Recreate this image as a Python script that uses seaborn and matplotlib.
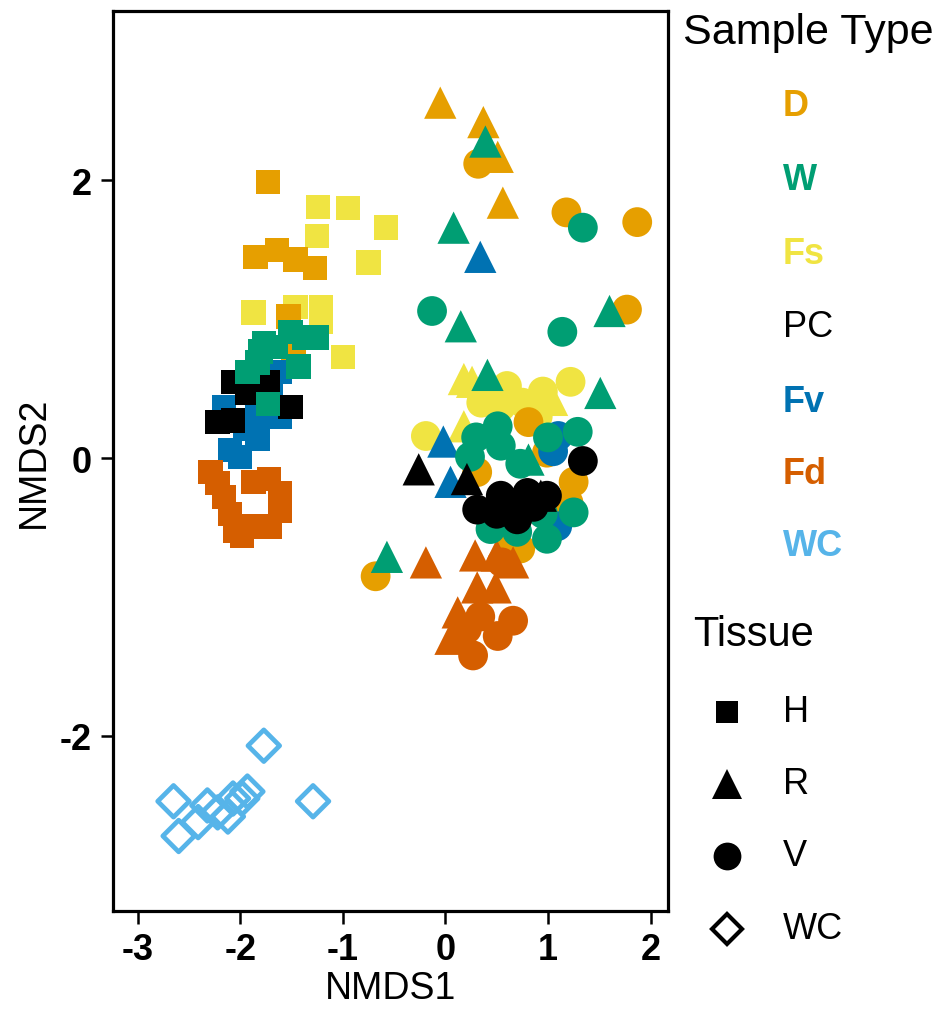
import matplotlib
matplotlib.use("Agg")
import matplotlib.pyplot as plt
import seaborn as sns
import pandas as pd
from matplotlib.lines import Line2D

# ---- data (NMDS1, NMDS2) per sample type and tissue ----
d_h = [(-1.73, 1.99), (-1.85, 1.45), (-1.64, 1.50), (-1.46, 1.43), (-1.27, 1.37),
       (-1.53, 1.02), (-1.48, 0.78)]
fs_h = [(-1.24, 1.81), (-0.95, 1.80), (-0.58, 1.66), (-1.25, 1.60), (-0.75, 1.41),
        (-1.87, 1.05), (-1.46, 1.09), (-1.21, 1.09), (-1.21, 0.98), (-1.00, 0.73)]
fv_h = [(-2.16, 0.37), (-1.83, 0.30), (-1.61, 0.62), (-1.61, 0.30), (-2.00, 0.01),
        (-1.83, 0.14), (-2.10, 0.06), (-1.95, 0.21), (-1.70, 0.45)]
pc_h = [(-2.07, 0.55), (-1.93, 0.47), (-1.73, 0.55), (-1.51, 0.37), (-2.22, 0.26),
        (-2.07, 0.27)]
w_h = [(-1.77, 0.83), (-1.38, 0.87), (-1.25, 0.87), (-1.83, 0.69), (-1.93, 0.62),
       (-1.43, 0.66), (-1.73, 0.39), (-1.51, 0.91), (-1.80, 0.77), (-1.65, 0.80)]
fd_h = [(-2.29, -0.10), (-2.22, -0.18), (-2.16, -0.28), (-2.10, -0.40), (-2.05, -0.52),
        (-1.98, -0.56), (-1.87, -0.49), (-1.71, -0.49), (-1.61, -0.38), (-1.61, -0.25),
        (-1.72, -0.15), (-1.87, -0.17)]

fs_v = [(0.60, 0.52), (1.22, 0.55), (0.54, 0.37), (-0.19, 0.16), (0.75, 0.40),
        (0.90, 0.30), (0.45, 0.45), (0.95, 0.48), (0.35, 0.40)]
fs_r = [(0.18, 0.57), (0.26, 0.55), (1.04, 0.42), (0.18, 0.23), (0.70, 0.45),
        (0.85, 0.35)]
d_r = [(-0.05, 2.56), (0.37, 2.42), (0.51, 2.17), (0.56, 1.84)]
d_v = [(0.32, 2.12), (1.18, 1.77), (1.87, 1.70), (1.77, 1.07), (0.81, 0.26),
       (0.99, 0.04), (0.31, -0.10), (1.25, -0.17), (0.73, -0.65), (-0.68, -0.85),
       (1.20, -0.32), (0.60, -0.55)]
fv_r = [(0.34, 1.45), (-0.02, 0.12), (0.05, -0.17)]
fv_v = [(1.10, 0.16), (1.09, -0.49), (1.05, 0.05)]
fd_r = [(-0.19, -0.75), (0.29, -0.70), (0.66, -0.75), (0.31, -0.93), (0.49, -0.93),
        (0.12, -1.11), (0.10, -1.25), (0.05, -1.30), (0.50, -0.70)]
fd_v = [(0.34, -1.14), (0.66, -1.17), (0.51, -1.28), (0.27, -1.42), (0.21, -1.23),
        (0.55, -0.75)]
pc_r = [(-0.26, -0.08), (0.21, -0.15), (0.93, -0.27)]
pc_v = [(1.34, -0.02), (0.31, -0.37), (0.54, -0.27), (0.70, -0.32), (0.86, -0.35),
        (0.99, -0.27), (0.70, -0.44), (0.50, -0.40), (0.80, -0.25)]
w_r = [(0.39, 2.28), (0.08, 1.66), (0.15, 0.95), (1.60, 1.06), (0.41, 0.60),
       (1.51, 0.47), (-0.57, -0.71), (0.81, -0.01)]
w_v = [(1.34, 1.66), (-0.13, 1.06), (1.14, 0.91), (0.51, 0.23), (1.29, 0.19),
       (0.24, 0.01), (0.54, 0.09), (0.73, -0.04), (1.25, -0.39), (0.44, -0.51),
       (0.70, -0.53), (0.99, -0.58), (0.30, 0.15), (0.95, -0.40), (1.00, 0.15)]

wc_wc = [(-1.77, -2.07), (-1.29, -2.47), (-2.65, -2.47), (-2.60, -2.72), (-2.41, -2.62),
         (-2.22, -2.55), (-2.07, -2.45), (-1.93, -2.40), (-2.32, -2.50), (-2.12, -2.58),
         (-1.98, -2.45)]

sample_types = ["D", "W", "Fs", "PC", "Fv", "Fd", "WC"]
sample_colors = ["#E69F00", "#009E73", "#F0E442", "#000000", "#0072B2", "#D55E00", "#56B4E9"]
tissues = ["H", "R", "V", "WC"]

# drawing order (later = on top)
groups = [
    ("Fs", "H", fs_h), ("D", "H", d_h), ("Fv", "H", fv_h), ("Fd", "H", fd_h),
    ("PC", "H", pc_h), ("W", "H", w_h),
    ("Fs", "V", fs_v), ("Fs", "R", fs_r), ("D", "R", d_r), ("D", "V", d_v),
    ("Fv", "R", fv_r), ("Fv", "V", fv_v), ("Fd", "R", fd_r), ("Fd", "V", fd_v),
    ("W", "V", w_v), ("W", "R", w_r), ("PC", "R", pc_r), ("PC", "V", pc_v),
]

rows = []
for st, ti, pts in groups:
    for x, y in pts:
        rows.append({"NMDS1": x, "NMDS2": y, "Sample": st, "Tissue": ti})
df = pd.DataFrame(rows)
wc_df = pd.DataFrame(wc_wc, columns=["NMDS1", "NMDS2"])

palette = dict(zip(sample_types, sample_colors))

sns.set_style("ticks")
plt.rcParams["font.family"] = ["Liberation Sans", "DejaVu Sans"]
plt.rcParams["axes.unicode_minus"] = False
plt.rcParams["text.color"] = "black"
plt.rcParams["axes.labelcolor"] = "black"
plt.rcParams["xtick.color"] = "black"
plt.rcParams["ytick.color"] = "black"

fig = plt.figure(figsize=(9.5, 10.2), dpi=100)
ax = fig.add_axes([113 / 950, 1 - 912 / 1020, (668 - 113) / 950, (912 - 12) / 1020])

sns.scatterplot(data=df, x="NMDS1", y="NMDS2", hue="Sample", style="Tissue",
                size="Tissue", palette=palette,
                markers={"H": "s", "R": "^", "V": "o"},
                sizes={"H": 310, "R": 540, "V": 460},
                linewidth=0, legend=False, ax=ax)
sns.scatterplot(data=wc_df, x="NMDS1", y="NMDS2", marker="D", s=260,
                facecolor="none", edgecolor=palette["WC"], linewidth=3.4,
                legend=False, ax=ax)

ax.set_xlim(-3.24, 2.17)
ax.set_ylim(-3.26, 3.22)
ax.set_xticks([-3, -2, -1, 0, 1, 2])
ax.set_yticks([-2, 0, 2])
for sp in ax.spines.values():
    sp.set_linewidth(2.3)
    sp.set_color("black")
ax.tick_params(direction="out", length=9, width=1.8, color="black", labelcolor="black", pad=6)
tick_fp = matplotlib.font_manager.FontProperties(
    family=["Liberation Sans Narrow", "Liberation Sans", "DejaVu Sans"],
    weight="bold", size=26)
for lab in ax.get_xticklabels() + ax.get_yticklabels():
    lab.set_fontproperties(tick_fp)
ax.set_xlabel("NMDS1", fontsize=27, labelpad=2, color="black")
ax.set_ylabel("NMDS2", fontsize=27, labelpad=6, color="black")

# ---- legends as figure text ----
def fy(py):
    return 1 - py / 1020

fig.text(683 / 950, fy(33), "Sample Type", fontsize=31, va="center", ha="left", color="black")
label_y = [107, 181, 255, 328, 403, 475, 547]
for st, col, py in zip(sample_types, sample_colors, label_y):
    fig.text(783 / 950, fy(py), st, color=col, fontsize=26, va="center", ha="left",
             weight="normal" if st == "PC" else "bold")

fig.text(693 / 950, fy(635), "Tissue", fontsize=30, va="center", ha="left", color="black")
tissue_marker = ["s", "^", "o", "D"]
tissue_ms = [16, 22, 20, 15]
tissue_y = [713, 785, 857, 930]
for ti, mk, ms, py in zip(tissues, tissue_marker, tissue_ms, tissue_y):
    if ti == "WC":
        h = Line2D([727 / 950], [fy(py)], marker=mk, markersize=ms, linestyle="none",
                   markerfacecolor="none", markeredgecolor="black", markeredgewidth=3.0,
                   transform=fig.transFigure)
    else:
        h = Line2D([727 / 950], [fy(py)], marker=mk, markersize=ms, linestyle="none",
                   markerfacecolor="black", markeredgewidth=0,
                   transform=fig.transFigure)
    fig.add_artist(h)
    fig.text(783 / 950, fy(py), ti, fontsize=26, va="center", ha="left", color="black")

fig.savefig("out.png", dpi=100)
